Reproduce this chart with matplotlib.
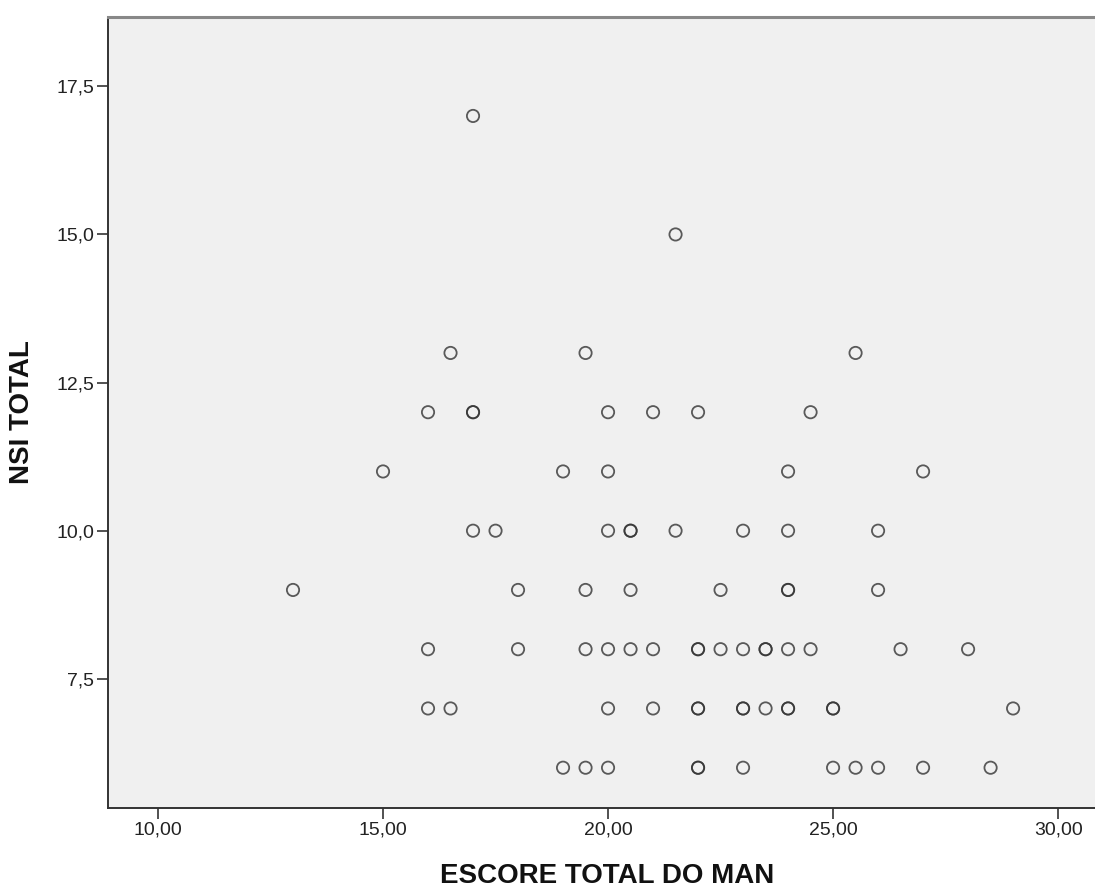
"""SPSS-style scatter: NSI TOTAL vs ESCORE TOTAL DO MAN."""

import matplotlib

matplotlib.use("Agg")
import matplotlib.pyplot as plt
from matplotlib.ticker import FuncFormatter

plt.rcParams["font.family"] = ["Liberation Sans", "DejaVu Sans"]

# points grouped by NSI TOTAL row; repeated x = overlapping cases
nsi_17 = [17]
nsi_15 = [21.5]
nsi_13 = [16.5, 19.5, 25.5]
nsi_12 = [16, 17, 17, 20, 21, 22, 24.5]
nsi_11 = [15, 19, 20, 24, 27]
nsi_10 = [17, 17.5, 20, 20.5, 20.5, 21.5, 23, 24, 26]
nsi_9 = [13, 18, 19.5, 20.5, 22.5, 24, 24, 26]
nsi_8 = [16, 18, 19.5, 20, 20.5, 21, 22, 22, 22.5, 23, 23.5, 23.5, 24, 24.5, 26.5, 28]
nsi_7 = [16, 16.5, 20, 21, 22, 22, 23, 23, 23.5, 24, 24, 25, 25, 29]
nsi_6 = [19, 19.5, 20, 22, 22, 23, 25, 25.5, 26, 27, 28.5]

rows = {17: nsi_17, 15: nsi_15, 13: nsi_13, 12: nsi_12, 11: nsi_11,
        10: nsi_10, 9: nsi_9, 8: nsi_8, 7: nsi_7, 6: nsi_6}

x_ticks = [10, 15, 20, 25, 30]
y_ticks = [7.5, 10.0, 12.5, 15.0, 17.5]

man = [x for vals in rows.values() for x in vals]
nsi = [y for y, vals in rows.items() for _ in vals]

fig = plt.figure(figsize=(10.95, 8.88), dpi=100)
ax = fig.add_axes([108 / 1095, 80 / 888, 1 - 108 / 1095, 791 / 888])
ax.set_facecolor("#f0f0f0")

ax.scatter(man, nsi, s=78, facecolors="none", edgecolors="#333333",
           linewidths=1.3, alpha=0.8, zorder=3)

ax.set_xlim(8.889, 30.82)
ax.set_ylim(5.32, 18.67)
ax.set_xticks(x_ticks)
ax.set_yticks(y_ticks)
ax.xaxis.set_major_formatter(FuncFormatter(lambda v, _: f"{v:.2f}".replace(".", ",")))
ax.yaxis.set_major_formatter(FuncFormatter(lambda v, _: f"{v:.1f}".replace(".", ",")))
ax.tick_params(direction="out", length=8, width=1.2, color="#333333",
               labelsize=14, labelcolor="#222222", pad=2)

for side in ("left", "bottom"):
    ax.spines[side].set_color("#333333")
    ax.spines[side].set_linewidth(1.4)
ax.spines["top"].set_color("#888888")
ax.spines["top"].set_linewidth(2.2)
ax.spines["right"].set_visible(False)

ax.set_xlabel("ESCORE TOTAL DO MAN", fontsize=20, fontweight="bold", color="#111111")
ax.set_ylabel("NSI TOTAL", fontsize=20, fontweight="bold", color="#111111")
ax.xaxis.set_label_coords((607 - 108) / 987, -55 / 791)
ax.yaxis.set_label_coords(-73 / 987, 0.5)

fig.savefig("out.png", dpi=100)
